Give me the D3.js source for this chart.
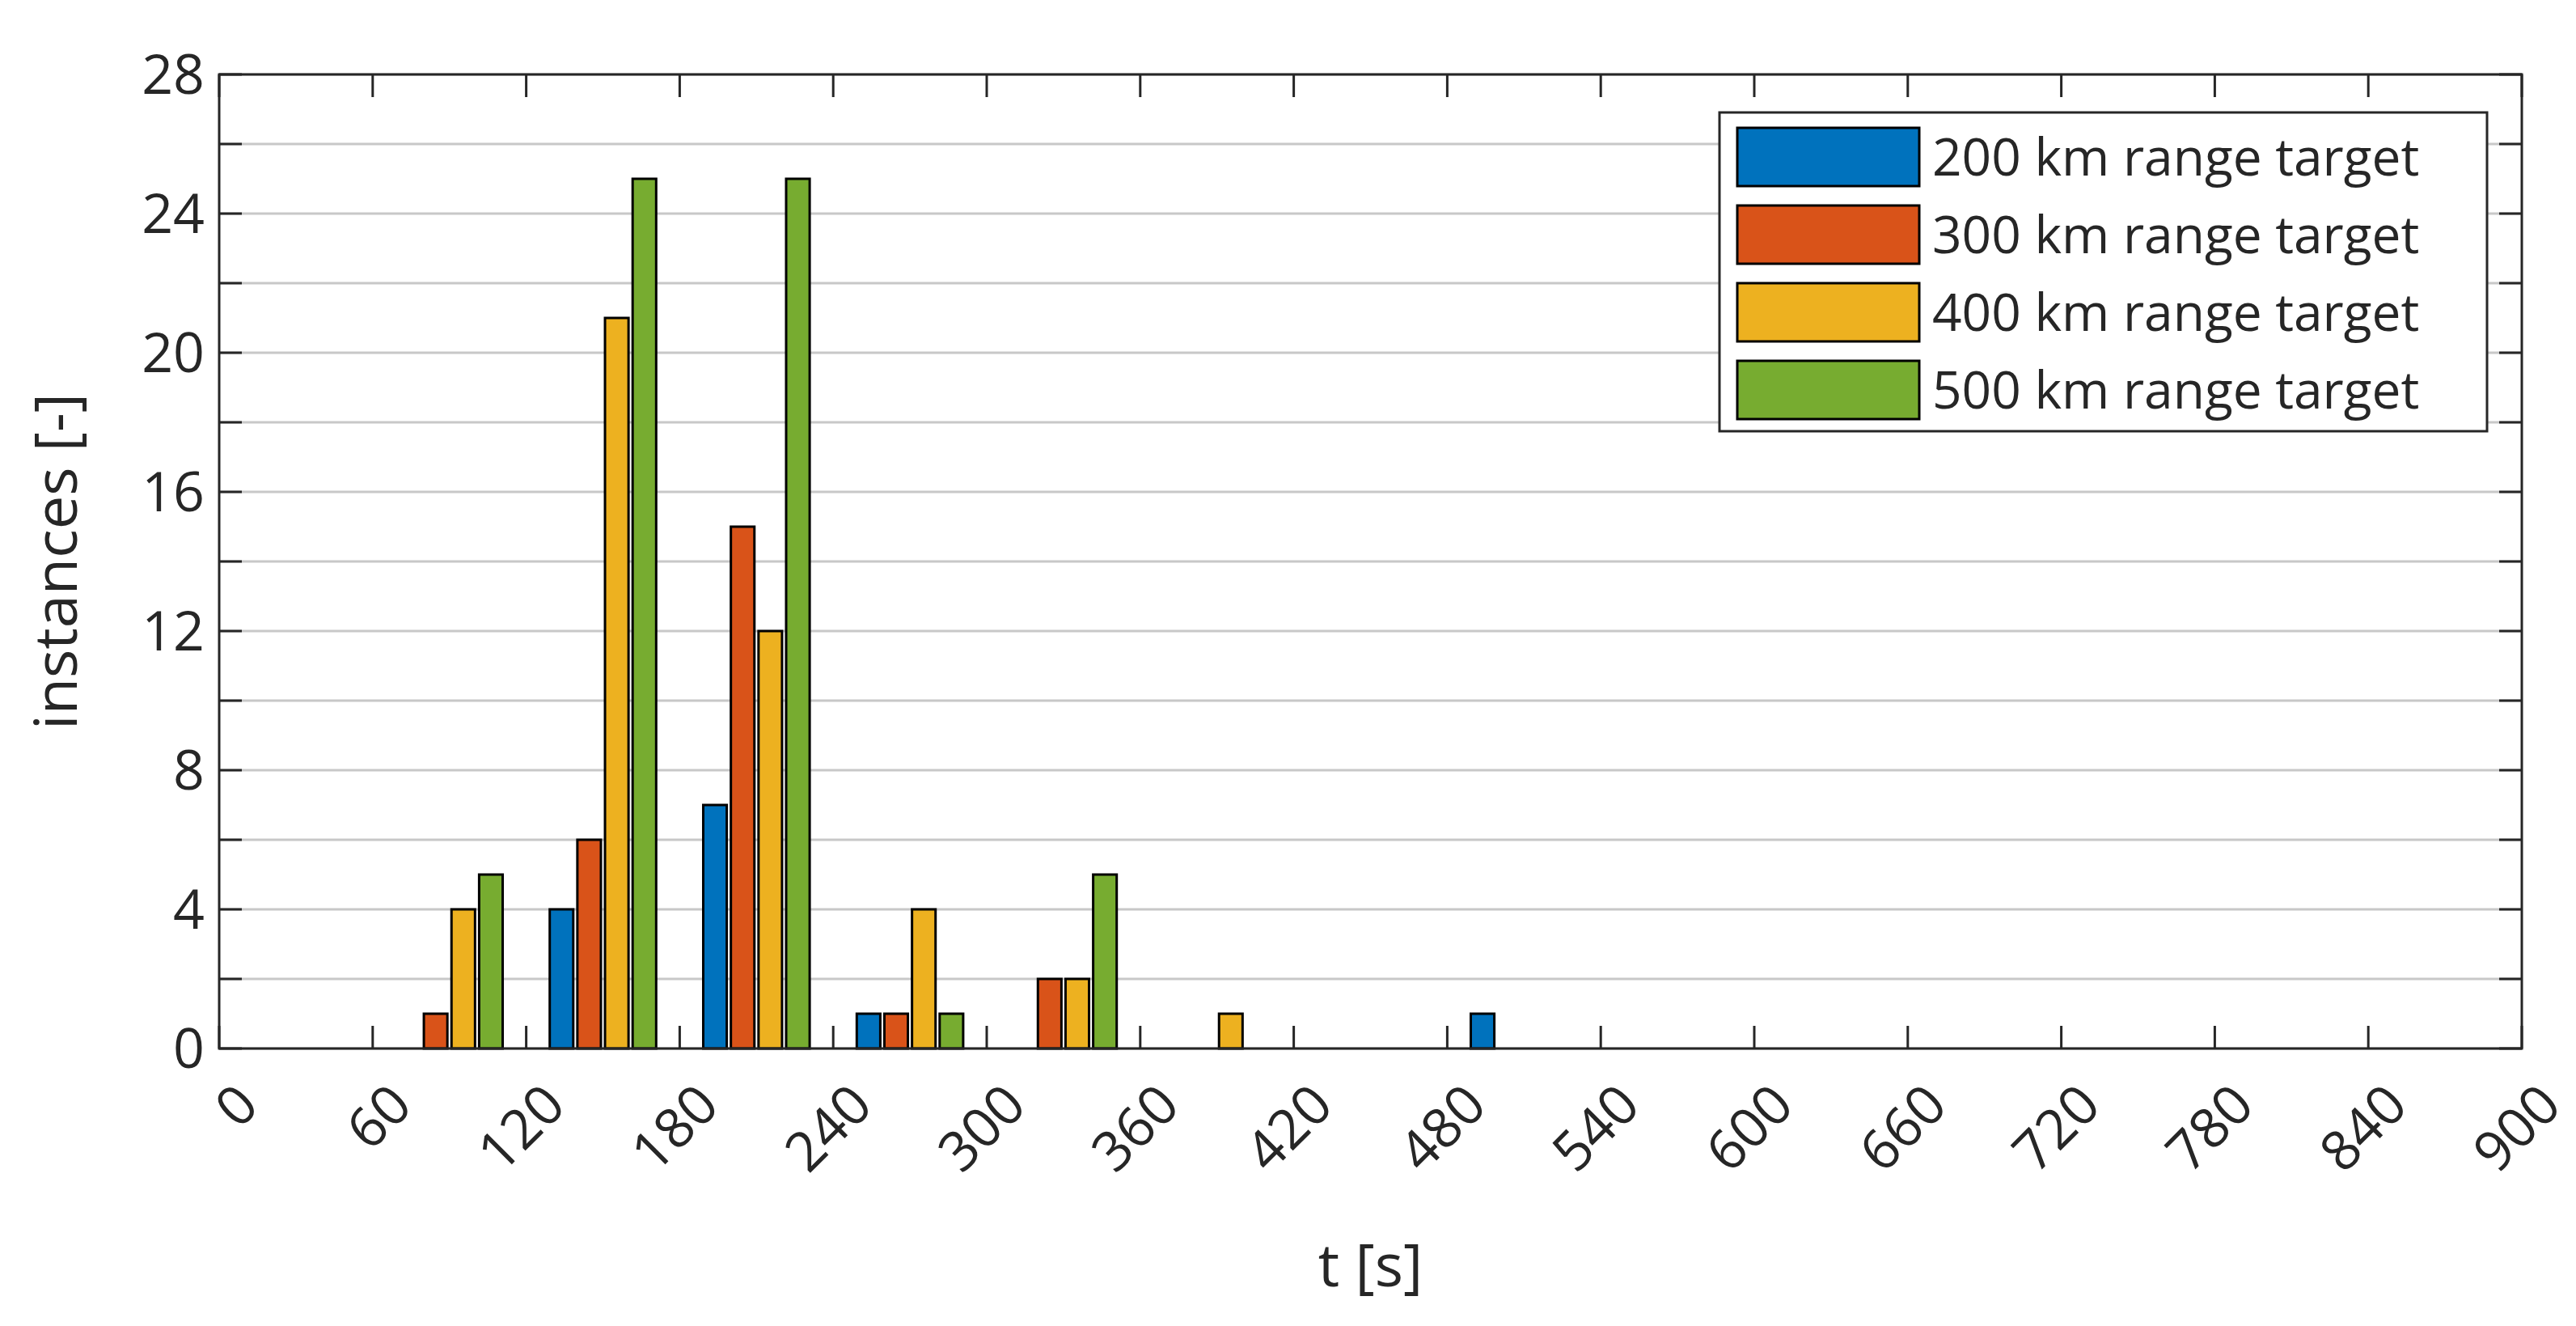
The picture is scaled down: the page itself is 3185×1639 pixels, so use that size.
<!DOCTYPE html><html><head><meta charset="utf-8"><script src="https://cdn.jsdelivr.net/npm/d3@7"></script>
<style>body{margin:0;background:#fff}text{font-family:"Open Sans",sans-serif;fill:#262626}</style></head><body>
<svg id="c" width="3185" height="1639"></svg>
<script>
const binCenters=[30,90,150,210,270,330,390,450,510,570,630,690,750,810,870];
const seriesNames=["200 km range target","300 km range target","400 km range target","500 km range target"];
const colors=["#0072BD","#D95319","#EDB120","#77AC30"];
const s200=[0,0,4,7,1,0,0,0,1,0,0,0,0,0,0];
const s300=[0,1,6,15,1,2,0,0,0,0,0,0,0,0,0];
const s400=[0,4,21,12,4,2,1,0,0,0,0,0,0,0,0];
const s500=[0,5,25,25,1,5,0,0,0,0,0,0,0,0,0];
const series=[s200,s300,s400,s500];
const xTicks=d3.range(0,901,60), yTicks=d3.range(0,29,4), yGrid=d3.range(0,29,2);
const L=271,R=3118,T=92,B=1296;
const svg=d3.select("#c");
const x=d3.scaleLinear().domain([0,900]).range([L,R]);
const y=d3.scaleLinear().domain([0,28]).range([B,T]);
svg.append("g").selectAll("line").data(yGrid).join("line").attr("x1",L).attr("x2",R).attr("y1",d=>y(d)).attr("y2",d=>y(d)).attr("stroke","#c8c8c8").attr("stroke-width",3);
const off=[-16.2,-5.4,5.4,16.2], bw=9.2;
series.forEach((s,i)=>{svg.append("g").selectAll("rect").data(s).join("rect")
 .attr("x",(d,j)=>x(binCenters[j]+off[i]-bw/2)).attr("width",x(bw)-x(0))
 .attr("y",d=>y(d)).attr("height",d=>y(0)-y(d)).attr("fill",colors[i]).attr("stroke","#000").attr("stroke-width",3);});
const g=svg.append("g");
yGrid.forEach(d=>{g.append("line").attr("x1",L).attr("x2",L+28).attr("y1",y(d)).attr("y2",y(d)).attr("stroke","#262626").attr("stroke-width",3);
 g.append("line").attr("x1",R).attr("x2",R-28).attr("y1",y(d)).attr("y2",y(d)).attr("stroke","#262626").attr("stroke-width",3);});
xTicks.forEach(d=>{g.append("line").attr("x1",x(d)).attr("x2",x(d)).attr("y1",B).attr("y2",B-28).attr("stroke","#262626").attr("stroke-width",3);
 g.append("line").attr("x1",x(d)).attr("x2",x(d)).attr("y1",T).attr("y2",T+28).attr("stroke","#262626").attr("stroke-width",3);});
g.append("rect").attr("x",L).attr("y",T).attr("width",R-L).attr("height",B-T).attr("fill","none").attr("stroke","#262626").attr("stroke-width",3);
yTicks.forEach(d=>g.append("text").attr("x",L-18).attr("y",y(d)).attr("dy","0.35em").attr("text-anchor","end").attr("font-size",68).text(d));
xTicks.forEach(d=>g.append("text").attr("transform",`translate(${x(d)+18},${B+40}) rotate(-45)`).attr("text-anchor","end").attr("dy","0.7em").attr("font-size",68).text(d));
svg.append("text").attr("x",(L+R)/2).attr("y",1590).attr("text-anchor","middle").attr("font-size",74).text("t [s]");
svg.append("text").attr("transform",`translate(95,${(T+B)/2}) rotate(-90)`).attr("text-anchor","middle").attr("font-size",74).text("instances [-]");
const lg=svg.append("g");
lg.append("rect").attr("x",2126).attr("y",139).attr("width",949).attr("height",394).attr("fill","#fff").attr("stroke","#262626").attr("stroke-width",3);
seriesNames.forEach((n,i)=>{const cy=194+i*96;
 lg.append("rect").attr("x",2148).attr("y",cy-36).attr("width",225).attr("height",72).attr("fill",colors[i]).attr("stroke","#000").attr("stroke-width",3);
 lg.append("text").attr("x",2389).attr("y",cy).attr("dy","0.36em").attr("font-size",64).text(n);});
</script></body></html>
